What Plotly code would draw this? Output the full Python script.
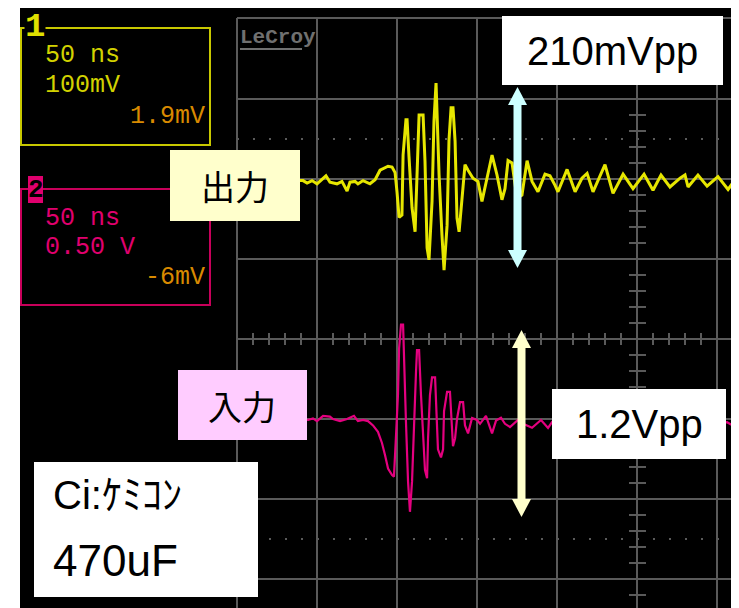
import plotly.graph_objects as go

# CH1 (uscita): tempo in ns, tensione in mV
t_ch1 = [0, 5, 9.4, 14.4, 19.4, 24.4, 29.4, 34.4, 39.4,
         41.3, 43.8, 46.9, 50, 55.6, 58.1, 62.5, 65.6, 68.8, 70.6,
         73.8, 75.6, 78.8, 83.1, 86.3, 89.4, 92.5, 94.4, 96.9, 98.8,
         100, 101.3, 103.1, 103.8, 105.6, 106.3, 107.5, 109.4, 111.3, 112.5,
         113.8, 116.3, 117.5, 118.8, 120, 121.9, 123.1, 124.4, 125, 126.3,
         128.1, 129.4, 131.3, 132.5, 133.8, 135, 136.3, 137.5, 138.8, 140.6,
         142.5, 144.4, 147.5, 150.6, 153.1, 155.6, 159.4, 162.5, 165.6, 167.5,
         169.4, 171.9, 175, 178.1, 181.3, 184.4, 188.1, 192.5, 195.6, 198.8,
         200.6, 206.3, 211.3, 215.6, 218.8, 222.5, 230, 235, 241.3, 247.5,
         254.4, 260, 265, 270.6, 276.9, 280, 281.9, 288.1, 293.8, 300.6,
         306.9, 311.3, 314.4]
v_ch1 = [-2, -4, -1, -5, -2, -4, -1, -5, -2,
         -2, -5, -2, -6, 4, -4, -6, -3, -15, -4,
         -3, -6, -2, -6, -1, 11, 14, 16, 15, 8,
         -16, -48, -45, 30, 74, 74, 28, -36, -66, 5,
         80, 80, 22, -86, -101, -28, 72, 120, 80, 5,
         -70, -114, -58, 49, 89, 89, 47, -49, -66, -24,
         18, 11, 1, -3, -28, -5, 30, 5, -26, -12,
         23, 20, -24, -20, 23, -3, -16, 6, 4, -8,
         -16, 12, -16, 1, 7, -16, 18, -18, 6, -12,
         6, -14, 5, -10, 1, 5, -10, 5, -9, 3,
         -13, -1, -3]

# CH2 (ingresso): tempo in ns, tensione in V
t_ch2 = [0, 6, 12, 18, 24, 30, 36, 42,
         44.4, 47.5, 50, 53.8, 58.1, 60, 64.4, 68.8, 73.1, 75.6,
         78.8, 81.9, 85, 88.1, 90.6, 92.5, 94.4, 96.9, 98.1, 99.4,
         100.6, 101.3, 102.5, 103.8, 104.4, 105.6, 106.9, 108.1, 109.4, 110.6,
         111.9, 112.5, 113.8, 115, 116.3, 117.5, 118.8, 119.4, 120.6, 121.9,
         123.8, 125, 125.6, 127.5, 128.8, 129.4, 131.3, 133.1, 134.4, 135,
         136.3, 137.5, 139.4, 141.3, 142.5, 144.4, 146.9, 150, 151.9, 155.6,
         159.4, 161.9, 165, 167.5, 170.6, 175.6, 178.8, 184.4, 190, 194.4,
         196.9, 201.9, 211.3, 220.6, 230, 239.4, 248.8, 258.1, 267.5, 276.9,
         286.3, 295.6, 306.3, 311.3, 314.4]
v_ch2 = [0, 0.01, -0.01, 0.005, 0.015, -0.005, 0.01, 0,
         -0.006, 0.004, -0.013, 0.02, 0.015, 0, -0.013, 0, 0.02, -0.013,
         -0.006, -0.013, -0.04, -0.08, -0.15, -0.225, -0.31, -0.35, -0.36, -0.1,
         0.15, 0.44, 0.59, 0.59, 0.34, -0.017, -0.39, -0.58, -0.39, 0.004,
         0.3, 0.43, 0.43, 0.15, -0.1, -0.32, -0.37, -0.12, 0.15, 0.26,
         0.26, -0.04, -0.19, -0.24, -0.19, 0.05, 0.17, 0.17, -0.04, -0.17,
         -0.12, 0.0, 0.106, 0.106, -0.04, -0.09, 0.006, -0.006, -0.03, 0.02,
         -0.09, -0.01, 0.008, -0.03, -0.05, -0.006, -0.03, -0.055, -0.006, -0.056,
         -0.02, -0.04, -0.01, -0.04, -0.015, -0.035, -0.01, -0.03, -0.02, -0.035,
         -0.015, -0.03, -0.02, -0.05, -0.03]

NS_PER_DIV = 50
CH1_MV_PER_DIV = 100
CH2_V_PER_DIV = 0.5

# geometria dello schermo (pixel dell'immagine di riferimento)
W, H = 739, 608
OFF = 8             # margine del <body> nella pagina html
L, T = 237, 18      # angolo in alto a sinistra della griglia
DIV = 80            # pixel per divisione
CH1_ZERO = 179      # riga dello zero di CH1
CH2_ZERO = 419      # riga dello zero di CH2

GRID = "#5a5a5a"
YEL = "#E6E600"
MAG = "#E4007F"
MONO = "Liberation Mono, DejaVu Sans Mono, monospace"
SANS = "Liberation Sans, Arial, Noto Sans CJK JP"
JP = "Noto Sans CJK JP"


def fx(px):
    return (px - L) / (W - L)


def fy(py):
    return (H - py) / (H - T)


shapes = []
annotations = []


def rect(x0, y0, x1, y1, fill=None, line=None, lw=0, layer="above"):
    shapes.append(dict(type="rect", xref="paper", yref="paper",
                       x0=fx(x0), x1=fx(x1), y0=fy(y1), y1=fy(y0),
                       fillcolor=fill or "rgba(0,0,0,0)",
                       line=dict(color=line or "rgba(0,0,0,0)", width=lw),
                       layer=layer))


def seg(x0, y0, x1, y1, color=GRID, width=2, dash="solid", layer="below"):
    shapes.append(dict(type="line", xref="paper", yref="paper",
                       x0=fx(x0), x1=fx(x1), y0=fy(y0), y1=fy(y1),
                       line=dict(color=color, width=width, dash=dash),
                       layer=layer))


def text(s, px, py, color, size, family, anchor="center", bg=None, bold=False):
    annotations.append(dict(text=f"<b>{s}</b>" if bold else s,
                            xref="paper", yref="paper",
                            x=fx(px), y=fy(py), xanchor=anchor, yanchor="middle",
                            showarrow=False, bgcolor=bg, borderpad=0,
                            font=dict(color=color, size=size, family=family)))


def arrow(cx, ytop, ybot, color):
    rect(cx - 4, ytop + 17, cx + 4, ybot - 17, fill=color)
    for tip, base in ((ytop, ytop + 18), (ybot, ybot - 18)):
        shapes.append(dict(type="path", xref="paper", yref="paper",
                           path=f"M {fx(cx)},{fy(tip)} L {fx(cx - 9.5)},{fy(base)} "
                                f"L {fx(cx + 9.5)},{fy(base)} Z",
                           fillcolor=color, line=dict(width=0), layer="above"))


# bordo bianco a sinistra (il margine del body fa il resto)
rect(OFF - 1, 0, 20, H, fill="white")

# bordo della griglia
seg(L, T, W, T)
seg(L, T, L, H)

# assi centrali con tacche
for k in range(1, 32):
    if k % 5:
        seg(L + 16 * k, 333, L + 16 * k, 345)
for k in range(0, 37):
    py = 19 + 16 * k
    if (py - 19) % 80:
        seg(629, py, 646, py)

# linee punteggiate
for py in (139, 539):
    seg(L, py, W, py, width=2, dash="2px,14px")

# riquadri dei canali
rect(21, 28, 210, 145, line="#C8C800", lw=2, layer="below")
text("1", 35, 27, "#E0E000", 34, MONO, bg="black", bold=True)
text("50 ns", 44, 56, "#D2D200", 25, MONO, anchor="left")
text("100mV", 44, 86, "#D2D200", 25, MONO, anchor="left")
text("1.9mV", 206, 116, "#D98A00", 25, MONO, anchor="right")

rect(21, 189, 210, 305, line="#C8005A", lw=2, layer="below")
rect(28, 176, 43, 203, fill="#E0006E")
text("2", 35.5, 190, "black", 26, MONO, bold=True)
text("50 ns", 44, 218, "#E0006E", 25, MONO, anchor="left")
text("0.50 V", 44, 247, "#E0006E", 25, MONO, anchor="left")
text("-6mV", 206, 277, "#D98A00", 25, MONO, anchor="right")

# logo
text("LeCroy", 239, 37, "#707070", 21, MONO, anchor="left", bold=True)
seg(240, 49, 302, 49, color="#707070", width=2, layer="above")

# etichette
rect(170, 150, 300, 221, fill="#FFFFCC")
text("出力", 235, 186, "black", 34, JP)
rect(178, 370, 307, 440, fill="#FFCCFF")
text("入力", 242, 405, "black", 34, JP)
rect(502, 16, 723, 85, fill="white")
text("210mVpp", 612, 51, "black", 40, SANS)
rect(552, 389, 726, 459, fill="white")
text("1.2Vpp", 639, 424, "black", 40, SANS)
rect(34, 462, 258, 597, fill="white")
text("Ci:ｹﾐｺﾝ", 52, 495, "black", 40, SANS, anchor="left")
text("470uF", 52, 560, "black", 44, SANS, anchor="left")

arrow(517.5, 87, 268, "#CCFFFF")
arrow(521.5, 330, 517, "#FFFFCC")

fig = go.Figure()
fig.add_trace(go.Scatter(x=t_ch1, y=v_ch1, mode="lines",
                         line=dict(color=YEL, width=3), yaxis="y"))
fig.add_trace(go.Scatter(x=t_ch2, y=v_ch2, mode="lines",
                         line=dict(color=MAG, width=2.2), yaxis="y2"))

x_max = (W - L) / DIV * NS_PER_DIV
fig.update_layout(
    width=W - OFF, height=H - OFF,
    margin=dict(l=L - OFF, r=0, t=T - OFF, b=0, pad=0),
    paper_bgcolor="black",
    plot_bgcolor="rgba(0,0,0,0)",
    showlegend=False,
    xaxis=dict(range=[0, x_max], dtick=NS_PER_DIV, tick0=0, showgrid=True,
               gridcolor=GRID, gridwidth=2, zeroline=False,
               showticklabels=False, ticks=""),
    yaxis=dict(range=[(CH1_ZERO - H) / DIV * CH1_MV_PER_DIV,
                      (CH1_ZERO - T) / DIV * CH1_MV_PER_DIV],
               dtick=CH1_MV_PER_DIV, tick0=0, showgrid=True,
               gridcolor=GRID, gridwidth=2, zeroline=False,
               showticklabels=False, ticks=""),
    yaxis2=dict(range=[(CH2_ZERO - H) / DIV * CH2_V_PER_DIV,
                       (CH2_ZERO - T) / DIV * CH2_V_PER_DIV],
                overlaying="y", showgrid=False, zeroline=False,
                showticklabels=False, ticks=""),
    shapes=shapes,
    annotations=annotations,
)

fig.write_html("out.html")
